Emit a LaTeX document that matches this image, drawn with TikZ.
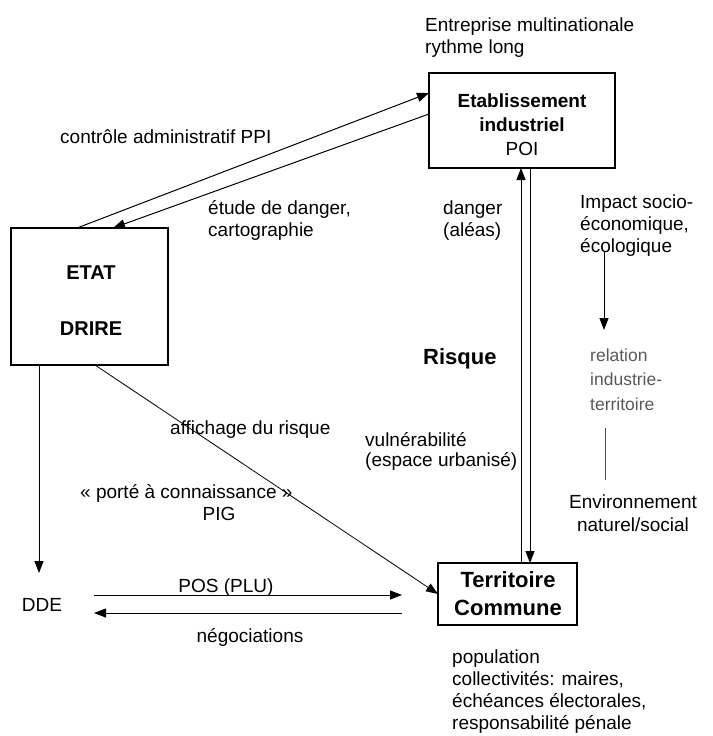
\documentclass[tikz,border=0pt]{standalone}
\usepackage{fontspec}
\setmainfont{Liberation Sans}
\usetikzlibrary{arrows.meta}
\begin{document}
\begin{tikzpicture}[x=1pt,y=-1pt,
  box/.style={draw, line width=1.2pt, inner sep=0pt, outer sep=0pt},
  lbl/.style={inner sep=0pt, anchor=base west, align=left, font=\fontsize{19}{22}\selectfont},
  ctr/.style={inner sep=0pt, anchor=base, align=center, font=\fontsize{19}{22}\selectfont},
  arr/.style={line width=1pt, -{Triangle[length=12pt,width=9pt]}},
  ln/.style={line width=1pt}]
\useasboundingbox (0,0) rectangle (712,736);

% boxes (multi-line texts are placed by the baseline of their last line)
\node[box, minimum width=186pt, minimum height=95pt] (etab) at (522,120.5) {};
\node[ctr, font=\fontsize{19}{24}\selectfont] (etabtxt) at (522,155) {\textbf{Etablissement}\\\textbf{industriel}\\POI};
\node[box, minimum width=157pt, minimum height=137pt] (etat) at (89.5,296.5) {};
\node[ctr, font=\fontsize{20}{56}\selectfont\bfseries] (etattxt) at (91,335) {ETAT\\DRIRE};
\node[box, minimum width=139pt, minimum height=62pt] (terr) at (507.5,594) {};
\node[ctr, font=\fontsize{22}{28}\selectfont\bfseries] (terrtxt) at (508,615) {Territoire\\Commune};

% texts
\node[lbl] (entr) at (425,53) {Entreprise multinationale\\rythme long};
\node[lbl] (ctrl) at (60,143) {contrôle administratif PPI};
\node[lbl] (etude) at (208,236) {étude de danger,\\cartographie};
\node[lbl] (danger) at (443,236) {danger\\(aléas)};
\node[lbl] (impact) at (580,252) {Impact socio-\\économique,\\écologique};
\node[lbl, font=\fontsize{17.5}{24.5}\selectfont, text=black!65] (rel) at (590,410) {relation\\industrie-\\territoire};
\node[ctr, font=\fontsize{19}{23}\selectfont] (env) at (633,531) {Environnement\\naturel/social};
\node[lbl, font=\fontsize{22}{26}\selectfont\bfseries] (risque) at (423,364) {Risque};
\node[lbl] (aff) at (170,434) {affichage du risque};
\node[lbl, font=\fontsize{19}{20}\selectfont] (vuln) at (365,466) {vulnérabilité\\(espace urbanisé)};
\node[lbl] (porte) at (80,498) {« porté à connaissance »};
\node[ctr] (pig) at (219,520) {PIG};
\node[ctr] (pos) at (226,592) {POS (PLU)};
\node[ctr] (nego) at (250,642) {négociations};
\node[ctr] (dde) at (42,611) {DDE};
\node[lbl, font=\fontsize{19}{21.7}\selectfont] (pop) at (452,729) {population\\collectivités: maires,\\échéances électorales,\\responsabilité pénale};

% connectors
\draw[arr] ([xshift=66pt]etat.north west) -- ([yshift=-20pt]etab.north west);
\draw[arr] ([yshift=-41pt]etab.north west) -- ([xshift=102pt]etat.north west);
\coordinate (xl) at (521,0);
\coordinate (xr) at (530,0);
\draw[arr] (terr.north -| xl) -- (etab.south -| xl);
\draw[arr] (etab.south -| xr) -- (terr.north -| xr);
\draw[arr, line width=0.8pt] ([xshift=84pt]etat.south west) -- (terr.west);
\coordinate (ddein) at (39,573);
\draw[arr] ([xshift=28pt]etat.south west) -- (ddein);
\coordinate (p1) at (94,595);
\coordinate (p2) at (402,595);
\draw[arr] (p1) -- (p2);
\coordinate (n1) at (402,613);
\coordinate (n2) at (94,613);
\draw[arr] (n1) -- (n2);
\coordinate (i1) at (604,252);
\coordinate (i2) at (604,330);
\draw[arr] (i1) -- (i2);
\coordinate (g1) at (605,428);
\coordinate (g2) at (605,480);
\draw[ln, black!70] (g1) -- (g2);
\end{tikzpicture}
\end{document}
